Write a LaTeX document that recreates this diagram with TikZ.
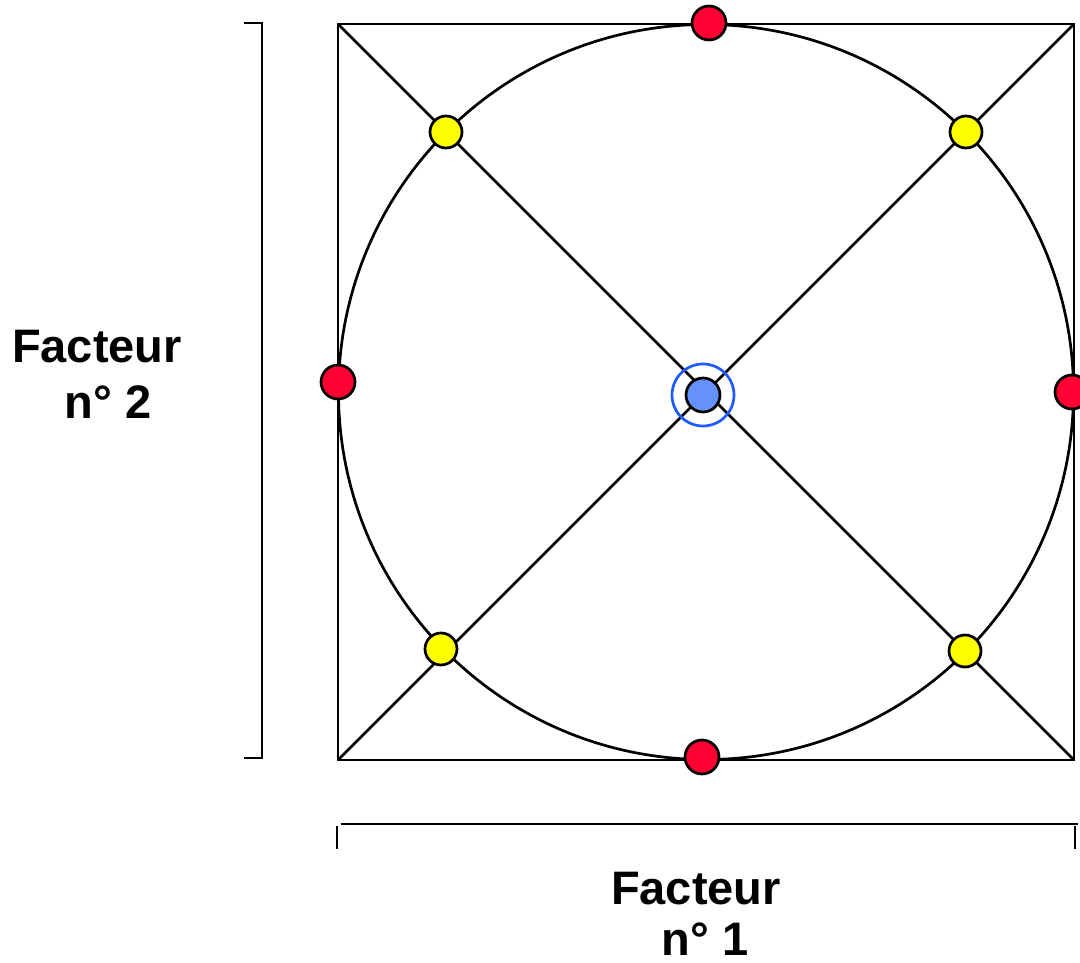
\documentclass[tikz,border=0pt]{standalone}
\usepackage{fontspec}
\setmainfont{Liberation Sans}
\begin{document}
\begin{tikzpicture}[x=1pt,y=-1pt,
  line width=2.7pt,
  ln/.style={draw=black,line width=2.7pt},
  dotbase/.style={circle,draw=black,line width=2.7pt,inner sep=0pt},
  reddot/.style={dotbase,fill={rgb,255:red,255;green,0;blue,51},minimum size=34pt},
  yeldot/.style={dotbase,fill={rgb,255:red,255;green,255;blue,0},minimum size=32pt},
  bluedot/.style={dotbase,fill={rgb,255:red,100;green,145;blue,250},minimum size=34pt},
  ring/.style={circle,draw={rgb,255:red,30;green,90;blue,255},line width=2.7pt,inner sep=0pt,minimum size=62pt},
  lbl/.style={font=\bfseries\fontsize{47}{56}\selectfont,anchor=base,inner sep=0pt}
]
\useasboundingbox (0,0) rectangle (1080,963);
% square corners
\coordinate (tl) at (338,24);
\coordinate (tr) at (1074,24);
\coordinate (bl) at (338,760);
\coordinate (br) at (1074,760);
\coordinate (c) at (706,392);
% square and diagonals
\draw[ln] (tl) -- (tr) -- (br) -- (bl) -- cycle;
\draw[ln] (tl) -- (br);
\draw[ln] (tr) -- (bl);
% circle
\draw[ln] (c) circle[radius=367.5pt];
% left bracket
\coordinate (lb1) at (244,23);
\coordinate (lb2) at (262,23);
\coordinate (lb3) at (262,758);
\coordinate (lb4) at (244,758);
\draw[ln] (lb1) -- (lb2) -- (lb3) -- (lb4);
% bottom bracket
\coordinate (bb1) at (341,824);
\coordinate (bb2) at (1078,824);
\coordinate (bt1a) at (337,826);
\coordinate (bt1b) at (337,849);
\coordinate (bt2a) at (1075,826);
\coordinate (bt2b) at (1075,849);
\draw[ln] (bb1) -- (bb2);
\draw[ln] (bt1a) -- (bt1b);
\draw[ln] (bt2a) -- (bt2b);
% ring and center dot
\node[ring] (ring) at (703,395) {};
\node[bluedot] (ctr) at (703,395) {};
% red dots
\node[reddot] (rt) at (709,23) {};
\node[reddot] (rb) at (702,757) {};
\node[reddot] (rl) at (338,382) {};
\node[reddot] (rr) at (1072,392) {};
% yellow dots
\node[yeldot] (y1) at (446,132) {};
\node[yeldot] (y2) at (966,132) {};
\node[yeldot] (y3) at (441,649) {};
\node[yeldot] (y4) at (965,651) {};
% labels
\node[lbl] (f2a) at (97,362) {Facteur};
\node[lbl] (f2b) at (108,418) {n° 2};
\node[lbl] (f1a) at (696,904) {Facteur};
\node[lbl] (f1b) at (705,955) {n° 1};
\end{tikzpicture}
\end{document}
